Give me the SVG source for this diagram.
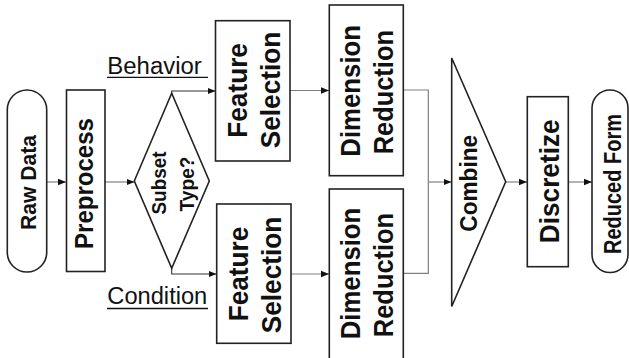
<svg xmlns="http://www.w3.org/2000/svg" width="629" height="358" viewBox="0 0 629 358">
<style>
.node{fill:#fff;stroke:#222;stroke-width:1.6}
.conn{fill:none;stroke:#808080;stroke-width:1.2}
.branch{fill:none;stroke:#333;stroke-width:1.1}
.ta{font-family:"Liberation Sans",Arial,sans-serif;font-weight:bold;fill:#111;text-anchor:middle}
.lbl{font-family:"Liberation Sans",Arial,sans-serif;font-size:23px;fill:#111}
.ul{stroke:#111;stroke-width:1.3}
</style>
<defs>
<marker id="arr" viewBox="0 0 8 8" refX="8" refY="4" markerWidth="8" markerHeight="8" markerUnits="userSpaceOnUse" orient="auto">
<path d="M0,0.8 L8,4 L0,7.2 Z" fill="#111"/>
</marker>
</defs>

<g id="connectors">
<path class="conn" d="M47 182 H66" marker-end="url(#arr)"/>
<path class="conn" d="M105 182 H134.5" marker-end="url(#arr)"/>
<path class="branch" d="M171.7 93.5 V91 H215.5" marker-end="url(#arr)"/>
<path class="branch" d="M171.7 268.3 V274 H216.5" marker-end="url(#arr)"/>
<path class="conn" d="M290 90.5 H329" marker-end="url(#arr)"/>
<path class="conn" d="M291 274 H329" marker-end="url(#arr)"/>
<path class="conn" d="M403.5 90 H428.3 V182"/>
<path class="conn" d="M403.5 273.3 H428.3 V182"/>
<path class="conn" d="M428.3 182 H451.5" marker-end="url(#arr)"/>
<path class="conn" d="M505.7 182 H527" marker-end="url(#arr)"/>
<path class="conn" d="M568.5 182 H592" marker-end="url(#arr)"/>
</g>

<g id="raw-data">
<rect class="node" x="7.3" y="90" width="39.4" height="182" rx="19.7" ry="19.7"/>
<text class="ta" font-size="22" transform="translate(35.5,182.5) rotate(-90)" textLength="95" lengthAdjust="spacingAndGlyphs">Raw Data</text>
</g>

<g id="preprocess">
<rect class="node" x="66.5" y="90" width="38.5" height="181.5"/>
<text class="ta" font-size="25" transform="translate(93,183.5) rotate(-90)" textLength="131" lengthAdjust="spacingAndGlyphs">Preprocess</text>
</g>

<g id="subset-type">
<polygon class="node" points="134.3,181 171.7,93.3 209.3,181 171.7,268.3"/>
<text class="ta" font-size="20" transform="translate(165.5,183) rotate(-90)" textLength="63" lengthAdjust="spacingAndGlyphs">Subset</text>
<text class="ta" font-size="20" transform="translate(193.5,184) rotate(-90)" textLength="55" lengthAdjust="spacingAndGlyphs">Type?</text>
</g>

<g id="label-behavior">
<text class="lbl" x="107.3" y="74" textLength="94.5" lengthAdjust="spacingAndGlyphs">Behavior</text>
<line class="ul" x1="107" y1="77.3" x2="208" y2="77.3"/>
</g>

<g id="label-condition">
<text class="lbl" x="107.3" y="304.3" textLength="100" lengthAdjust="spacingAndGlyphs">Condition</text>
<line class="ul" x1="107" y1="308.5" x2="208" y2="308.5"/>
</g>

<g id="feature-selection-top">
<rect class="node" x="215.5" y="20.7" width="74.5" height="140.3"/>
<text class="ta" font-size="27" transform="translate(246.5,90.4) rotate(-90)" textLength="94.7" lengthAdjust="spacingAndGlyphs">Feature</text>
<text class="ta" font-size="27" transform="translate(280,90) rotate(-90)" textLength="116.7" lengthAdjust="spacingAndGlyphs">Selection</text>
</g>

<g id="feature-selection-bottom">
<rect class="node" x="216.7" y="204" width="74.3" height="139.3"/>
<text class="ta" font-size="27" transform="translate(247.5,274) rotate(-90)" textLength="94.7" lengthAdjust="spacingAndGlyphs">Feature</text>
<text class="ta" font-size="27" transform="translate(281,275) rotate(-90)" textLength="116.7" lengthAdjust="spacingAndGlyphs">Selection</text>
</g>

<g id="dimension-reduction-top">
<rect class="node" x="329.3" y="5" width="74" height="170.7"/>
<text class="ta" font-size="27" transform="translate(359.5,90.8) rotate(-90)" textLength="131.7" lengthAdjust="spacingAndGlyphs">Dimension</text>
<text class="ta" font-size="27" transform="translate(393,92.2) rotate(-90)" textLength="124.3" lengthAdjust="spacingAndGlyphs">Reduction</text>
</g>

<g id="dimension-reduction-bottom">
<rect class="node" x="329.3" y="189" width="74" height="175"/>
<text class="ta" font-size="27" transform="translate(359.5,273.5) rotate(-90)" textLength="131.7" lengthAdjust="spacingAndGlyphs">Dimension</text>
<text class="ta" font-size="27" transform="translate(393,275) rotate(-90)" textLength="124.3" lengthAdjust="spacingAndGlyphs">Reduction</text>
</g>

<g id="combine">
<polygon class="node" points="451.7,58 505.7,181.7 451.7,306.5"/>
<text class="ta" font-size="23" transform="translate(476.5,183.3) rotate(-90)" textLength="96.7" lengthAdjust="spacingAndGlyphs">Combine</text>
</g>

<g id="discretize">
<rect class="node" x="527.3" y="96.7" width="41" height="170"/>
<text class="ta" font-size="27" transform="translate(558.5,181.3) rotate(-90)" textLength="124" lengthAdjust="spacingAndGlyphs">Discretize</text>
</g>

<g id="reduced-form">
<rect class="node" x="592" y="90" width="36" height="182.5" rx="18" ry="18"/>
<text class="ta" font-size="23" transform="translate(620.5,184) rotate(-90)" textLength="140" lengthAdjust="spacingAndGlyphs">Reduced Form</text>
</g>
</svg>
